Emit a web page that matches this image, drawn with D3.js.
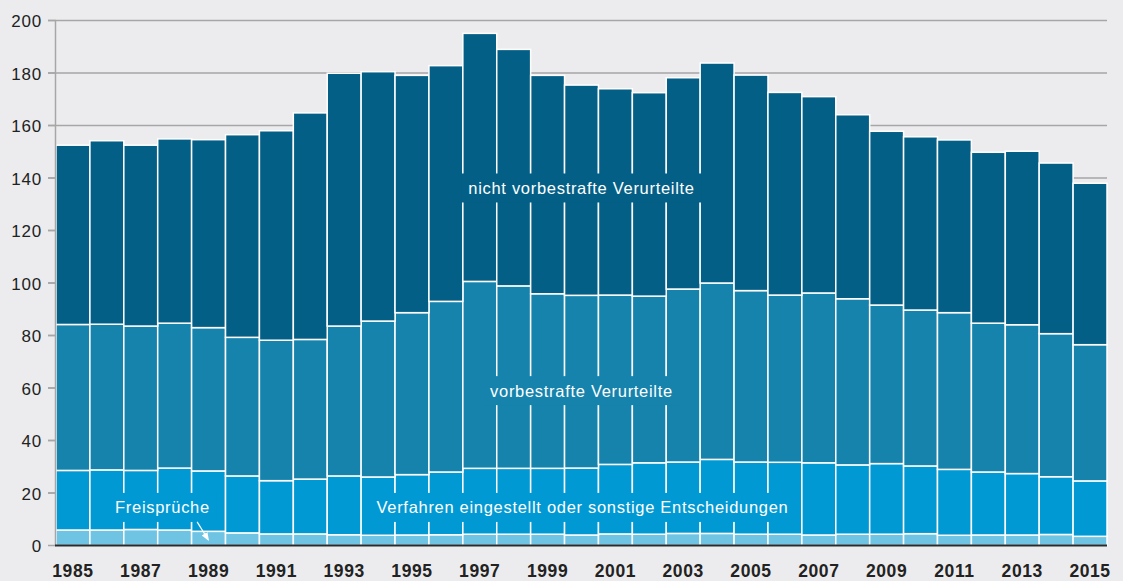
<!DOCTYPE html>
<html>
<head>
<meta charset="utf-8">
<script src="https://cdn.jsdelivr.net/npm/d3@7"></script>
<style>
  body { margin: 0; background: #ececee; }
  svg { display: block; font-family: "Liberation Sans", Arial, Helvetica, sans-serif; }
</style>
</head>
<body>
<div id="chart"></div>
<script>
// Years on the x axis, every second one gets a label.
const years = d3.range(1985, 2016).map(String);
const yTicks = [0, 20, 40, 60, 80, 100, 120, 140, 160, 180, 200];

// Values per year (in thousands), bottom to top.
const freisprueche = [5.9, 5.9, 6.1, 5.9, 5.4, 4.8, 4.4, 4.4, 4.1, 3.9, 4.0, 4.1, 4.3, 4.3, 4.3, 4.0,
    4.4, 4.3, 4.6, 4.6, 4.3, 4.3, 4.0, 4.3, 4.3, 4.5, 3.9, 4.0, 4.0, 4.2, 3.5];
const verfahrenEingestellt = [22.7, 22.9, 22.5, 23.6, 23.0, 21.7, 20.3, 20.9, 22.4, 22.2, 23.0, 23.9, 25.1, 25.1, 25.1, 25.5,
    26.5, 27.2, 27.2, 28.2, 27.5, 27.4, 27.5, 26.4, 26.9, 25.8, 25.1, 24.0, 23.4, 22.0, 21.1];
const vorbestrafte = [55.6, 55.5, 55.0, 55.2, 54.6, 52.8, 53.5, 53.2, 57.1, 59.4, 61.7, 65.0, 71.2, 69.5, 66.5, 65.8,
    64.5, 63.5, 65.9, 67.2, 65.3, 63.7, 64.7, 63.3, 60.4, 59.4, 59.7, 56.7, 56.7, 54.5, 51.9];
const nichtVorbestrafte = [68.3, 69.9, 68.9, 70.2, 71.6, 77.2, 79.8, 86.3, 96.3, 95.0, 90.4, 89.8, 94.5, 90.1, 83.2, 80.1,
    78.6, 77.5, 80.5, 83.8, 82.1, 77.2, 74.8, 70.1, 66.2, 66.0, 65.8, 65.1, 66.1, 65.0, 61.5];

const seriesKeys = ["frei", "verf", "vorb", "nicht"];
const seriesColors = ["#6fc4e4", "#0099d4", "#1683ad", "#045f87"];

const width = 1123;
const height = 581;
const margin = { top: 20.5, right: 16, bottom: 35.5, left: 56 };

const svg = d3.select("#chart")
    .append("svg")
    .attr("width", width)
    .attr("height", height);

// Build one row per year for d3.stack.
const rows = years.map((yr, i) => ({
    year: yr,
    frei: freisprueche[i],
    verf: verfahrenEingestellt[i],
    vorb: vorbestrafte[i],
    nicht: nichtVorbestrafte[i]
}));
const stacked = d3.stack().keys(seriesKeys)(rows);

const x = d3.scaleBand()
    .domain(years)
    .range([margin.left, width - margin.right])
    .padding(0);

const y = d3.scaleLinear()
    .domain([0, 200])
    .range([height - margin.bottom, margin.top]);

// Gridlines behind the bars.
svg.append("g")
    .selectAll("line")
    .data(yTicks.filter(d => d > 0))
    .enter()
    .append("line")
    .attr("x1", margin.left - 8)
    .attr("x2", width - margin.right)
    .attr("y1", d => y(d))
    .attr("y2", d => y(d))
    .attr("stroke", "#a6a6a8")
    .attr("stroke-width", 1.5);

// Stacked bars.
svg.append("g")
    .selectAll("g")
    .data(stacked)
    .enter()
    .append("g")
    .attr("fill", (d, i) => seriesColors[i])
    .selectAll("rect")
    .data(d => d)
    .enter()
    .append("rect")
    .attr("x", d => x(d.data.year))
    .attr("y", d => y(d[1]))
    .attr("width", x.bandwidth())
    .attr("height", d => y(d[0]) - y(d[1]))
    .attr("stroke", "#ffffff")
    .attr("stroke-width", 1.5);

// Series labels sitting on a box in the series colour.
const labels = [
    { text: "nicht vorbestrafte Verurteilte", cx: (margin.left + width - margin.right) / 2, v: 136.2, color: seriesColors[3] },
    { text: "vorbestrafte Verurteilte", cx: (margin.left + width - margin.right) / 2, v: 59, color: seriesColors[2] },
    { text: "Verfahren eingestellt oder sonstige Entscheidungen", cx: (margin.left + width - margin.right) / 2 + 1, v: 14.5, color: seriesColors[1] },
    { text: "Freisprüche", cx: x("1987") + x.bandwidth() * 1.14, v: 14.5, color: seriesColors[1] }
];

labels.forEach(function(l) {
    const g = svg.append("g");
    const t = g.append("text")
        .attr("x", l.cx)
        .attr("y", y(l.v) + 6)
        .attr("text-anchor", "middle")
        .attr("fill", "#ffffff")
        .attr("font-size", 16.5)
        .attr("letter-spacing", 0.7)
        .text(l.text);
    const w = t.node().getComputedTextLength();
    g.insert("rect", "text")
        .attr("x", l.cx - w / 2 - 7)
        .attr("y", y(l.v) - 14.5)
        .attr("width", w + 14)
        .attr("height", 29)
        .attr("fill", l.color);
});

// Small arrow from "Freisprüche" down to its band.
svg.append("defs")
    .append("marker")
    .attr("id", "arrow")
    .attr("viewBox", "0 0 10 10")
    .attr("refX", 8)
    .attr("refY", 5)
    .attr("markerWidth", 7)
    .attr("markerHeight", 7)
    .attr("orient", "auto")
    .append("path")
    .attr("d", "M0,1 L10,5 L0,9 Z")
    .attr("fill", "#ffffff");

svg.append("line")
    .attr("x1", x("1989") + 5.5)
    .attr("y1", y(9))
    .attr("x2", x("1989") + 16.5)
    .attr("y2", y(2.3))
    .attr("stroke", "#ffffff")
    .attr("stroke-width", 1.2)
    .attr("marker-end", "url(#arrow)");

// Y axis: vertical line, ticks and labels.
svg.append("line")
    .attr("x1", margin.left - 0.5)
    .attr("x2", margin.left - 0.5)
    .attr("y1", y(200))
    .attr("y2", y(0))
    .attr("stroke", "#a6a6a8")
    .attr("stroke-width", 1.5);

const yAxis = svg.append("g")
    .selectAll("g")
    .data(yTicks)
    .enter()
    .append("g");

yAxis.append("line")
    .attr("x1", margin.left - 8)
    .attr("x2", margin.left)
    .attr("y1", d => y(d))
    .attr("y2", d => y(d))
    .attr("stroke", "#a6a6a8")
    .attr("stroke-width", 1.5);

yAxis.append("text")
    .attr("x", margin.left - 14)
    .attr("y", d => y(d) + 6.5)
    .attr("text-anchor", "end")
    .attr("fill", "#222222")
    .attr("font-size", 17)
    .attr("letter-spacing", 0.8)
    .text(d => d);

// X axis baseline.
svg.append("line")
    .attr("x1", margin.left - 1)
    .attr("x2", width - margin.right)
    .attr("y1", y(0))
    .attr("y2", y(0))
    .attr("stroke", "#2a2a2a")
    .attr("stroke-width", 2);

// Year labels, every second year.
svg.append("g")
    .selectAll("text")
    .data(years.filter((d, i) => i % 2 === 0))
    .enter()
    .append("text")
    .attr("x", d => x(d) + x.bandwidth() / 2)
    .attr("y", 576.5)
    .attr("text-anchor", "middle")
    .attr("fill", "#222222")
    .attr("font-size", 17.5)
    .attr("font-weight", "bold")
    .attr("letter-spacing", 0.6)
    .text(d => d);
</script>
</body>
</html>
